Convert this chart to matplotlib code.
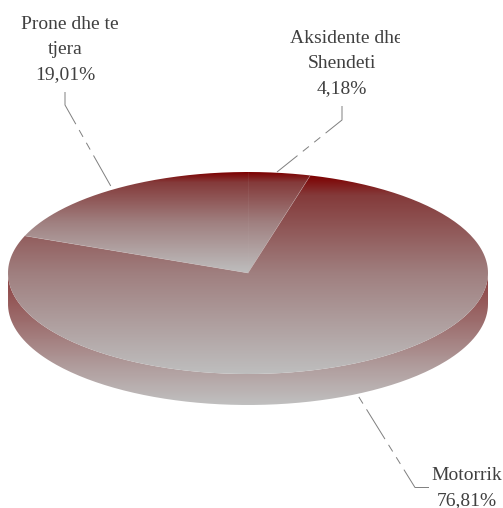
import numpy as np
import matplotlib
matplotlib.use("Agg")
import matplotlib.pyplot as plt
from matplotlib.colors import LinearSegmentedColormap
from matplotlib.patches import PathPatch
from matplotlib.path import Path
from matplotlib.transforms import Bbox

labels = ["Aksidente dhe\nShendeti\n4,18%", "Motorrik\n76,81%", "Prone dhe te\ntjera\n19,01%"]
values = [4.18, 76.81, 19.01]

# pixel coords of the pie on the 503x508 canvas
CX, CY, RX, RY, DEPTH = 248.0, 273.0, 240.0, 101.0, 31.0

# label centre x per line, first baseline y, clip right edge
label_pos = [((346, 341.5, 341.5), 43, 400), ((467, 467), 480, 503), ((70, 65.5, 65.5), 29, 118)]
# leader polylines, label -> slice edge (dash pattern starts at the label)
leaders = [
    [(342, 106), (342, 120), (277, 172)],
    [(429, 487.5), (415, 487.5), (357, 394)],
    [(65, 92), (65, 105), (113, 190)],
]

cmap = LinearSegmentedColormap.from_list(
    "fade", [(0, "#7d0000"), (0.1, "#843a3a"), (0.5, "#a08080"), (1, "#bebebe")])
side_cmap = LinearSegmentedColormap.from_list(
    "side", [(0, "#8c4040"), (0.35, "#9c6c6c"), (0.7, "#b09c9c"), (1, "#c0c0c0")])
grad = np.linspace(0, 1, 256)[:, None]


def ell(deg):
    """Point on the top ellipse, degrees clockwise from 12 o'clock."""
    a = np.radians(deg)
    return np.column_stack([CX + RX * np.sin(a), CY - RY * np.cos(a)])


def fill_grad(ax, verts, cm, top=None, bottom=None):
    """Vertical gradient clipped to a polygon."""
    verts = np.asarray(verts)
    top = verts[:, 1].min() if top is None else top
    bottom = verts[:, 1].max() if bottom is None else bottom
    im = ax.imshow(grad, cmap=cm, vmin=0, vmax=1, aspect="auto", interpolation="bilinear",
                   extent=(verts[:, 0].min(), verts[:, 0].max(), bottom, top), zorder=2)
    clip = PathPatch(Path(np.vstack([verts, verts[:1]])), transform=ax.transData,
                     fc="none", ec="none")
    ax.add_patch(clip)
    im.set_clip_path(clip)


fig = plt.figure(figsize=(5.03, 5.08), dpi=100)
ax = fig.add_axes([0, 0, 1, 1])
ax.set_xlim(0, 503)
ax.set_ylim(508, 0)
ax.axis("off")

# side wall, lower half only
front = ell(np.linspace(90, 270, 200))
wall = np.vstack([front, (front + [0, DEPTH])[::-1]])
fill_grad(ax, wall, side_cmap, top=CY + 2, bottom=CY + RY + DEPTH)

# top face slices
start = 0.0
for i, v in enumerate(values):
    sweep = v / sum(values) * 360
    arc = ell(np.linspace(start, start + sweep, 200))
    verts = np.vstack([[CX, CY], arc])
    fill_grad(ax, verts, cmap)
    # first edge is barely visible in the original
    ax.plot(*np.array([arc[0], [CX, CY]]).T, color="#c8b8b8", lw=0.4,
            alpha=0.15 if i == 0 else 0.6, zorder=3)
    start += sweep

for pts in leaders:
    xs, ys = zip(*pts)
    ax.plot(xs, ys, color="#7f7f7f", lw=0.7, dashes=(36, 7, 8, 7, 8, 7), zorder=1)

for txt, (xs, y, right) in zip(labels, label_pos):
    for i, line in enumerate(txt.split("\n")):
        t = ax.text(xs[i], y + i * 25, line, ha="center", va="baseline", color="#404040",
                    family="Liberation Serif", fontsize=14, zorder=4)
        # labels are cut off by their box in the original
        t.set_clip_box(Bbox([[0, 0], [right, 508]]))
        t.set_clip_on(True)

fig.savefig("out.png", dpi=100)
